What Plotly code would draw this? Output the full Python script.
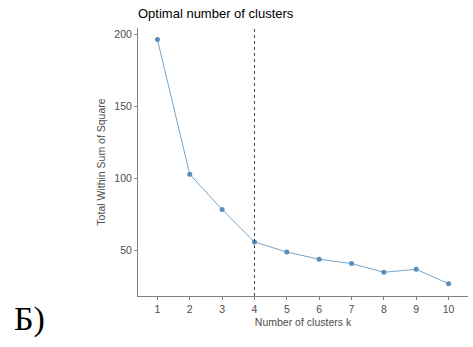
import plotly.graph_objects as go

k_values = [1, 2, 3, 4, 5, 6, 7, 8, 9, 10]
wss = [196.5, 103.0, 78.5, 56.0, 49.0, 44.0, 41.0, 35.0, 37.0, 27.0]
optimal_k = 4
x_ticks = [str(k) for k in k_values]
y_ticks = [50, 100, 150, 200]

fig = go.Figure()
fig.add_trace(go.Scatter(
    x=k_values, y=wss, mode="lines+markers",
    line=dict(color="#4682b4", width=0.8),
    marker=dict(color="#4682b4", size=5),
    opacity=0.9,
    showlegend=False,
))
fig.add_vline(x=optimal_k, line=dict(color="#444444", width=1, dash="dot"))

axis_font = dict(family="Liberation Sans, Arial", size=10.5, color="#4d4d4d")
fig.update_layout(
    width=473, height=347,
    margin=dict(l=138, r=5, t=28, b=51),
    paper_bgcolor="white", plot_bgcolor="white",
    title=dict(text="Optimal number of clusters", x=138/473, xanchor="left",
               y=1-13/347, yanchor="middle",
               font=dict(family="Liberation Sans, Arial", size=13, color="black")),
    xaxis=dict(range=[0.4, 10.6], tickvals=k_values, ticktext=x_ticks,
               showgrid=False, zeroline=False, showline=True, linecolor="#7f7f7f",
               linewidth=1, ticks="outside", ticklen=3, tickcolor="#7f7f7f",
               tickfont=axis_font,
               title=dict(text="Number of clusters k", standoff=5,
                          font=dict(family="Liberation Sans, Arial", size=10.5, color="#4d4d4d"))),
    yaxis=dict(range=[18.5, 204.5], tickvals=y_ticks,
               showgrid=False, zeroline=False, showline=True, linecolor="#7f7f7f",
               linewidth=1, ticks="outside", ticklen=3, tickcolor="#7f7f7f",
               tickfont=axis_font,
               title=dict(text="Total Within Sum of Square", standoff=6,
                          font=dict(family="Liberation Sans, Arial", size=10.5, color="#4d4d4d"))),
)
fig.add_annotation(text="Б)", xref="paper", yref="paper",
                   x=-126/330, y=-(319-296)/268, xanchor="left", yanchor="middle",
                   showarrow=False,
                   font=dict(family="Liberation Serif, Times New Roman", size=34, color="black"))
fig.write_html("out.html")
